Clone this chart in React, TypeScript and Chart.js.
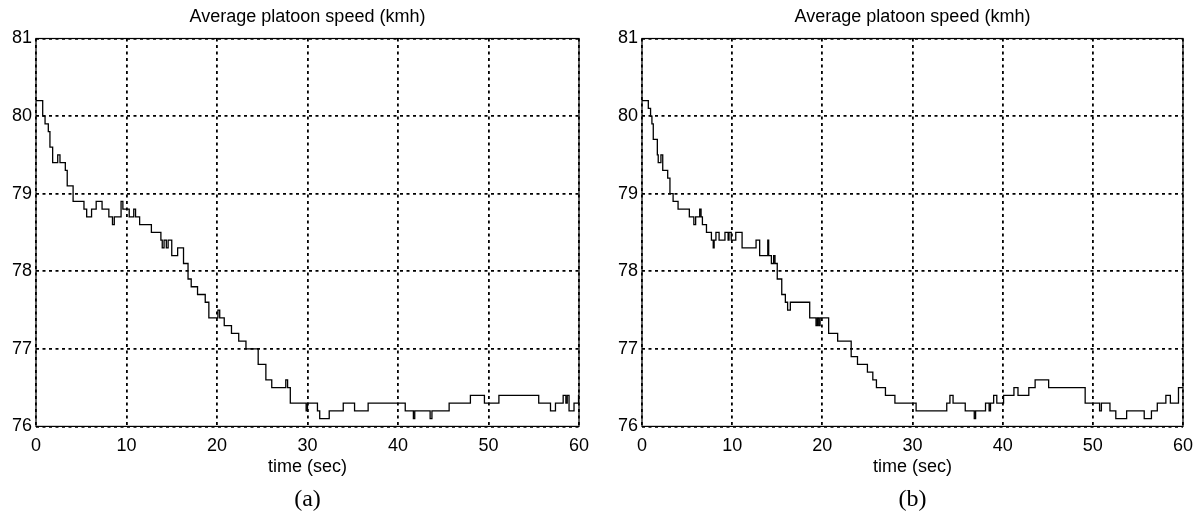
import React, { useEffect, useRef } from "react";
import { Chart, registerables } from "chart.js";

Chart.register(...registerables);

const chartTitle = "Average platoon speed (kmh)";
const xAxisTitle = "time (sec)";
const panelLabels = ["(a)", "(b)"];
const xTicks = [0, 10, 20, 30, 40, 50, 60];
const yTicks = [76, 77, 78, 79, 80, 81];

// Panel (a): times where speed changes (sec) and speed held from then (km/h)
const timesA = [0, 0.74, 1.0, 1.36, 1.54, 1.84, 2.4, 2.65, 3.24, 3.45, 4.1, 5.3, 5.6, 6.14, 6.65, 7.3, 8.05, 8.45, 8.65, 9.4, 9.6, 10.3, 10.8, 11.0, 11.45, 12.75, 13.8, 13.95, 14.15, 14.4, 14.6, 15.0, 15.65, 16.3, 16.8, 17.15, 17.85, 18.7, 19.1, 20.1, 20.3, 20.8, 21.6, 22.4, 23.2, 24.55, 25.4, 26.05, 27.6, 27.8, 28.1, 29.85, 30.0, 31.1, 31.35, 32.4, 33.95, 35.2, 36.7, 40.8, 41.7, 41.85, 43.55, 43.75, 45.65, 48.0, 49.55, 51.15, 55.55, 56.85, 57.4, 58.25, 58.55, 58.7, 58.9, 59.45, 59.95, 60];
const speedA = [80.2, 80.0, 79.9, 79.8, 79.6, 79.4, 79.5, 79.4, 79.3, 79.1, 78.9, 78.8, 78.7, 78.8, 78.9, 78.8, 78.7, 78.6, 78.7, 78.9, 78.8, 78.7, 78.8, 78.7, 78.6, 78.5, 78.4, 78.3, 78.4, 78.3, 78.4, 78.2, 78.3, 78.1, 77.9, 77.8, 77.7, 77.6, 77.4, 77.5, 77.4, 77.3, 77.2, 77.1, 77.0, 76.8, 76.6, 76.5, 76.6, 76.5, 76.3, 76.2, 76.3, 76.2, 76.1, 76.2, 76.3, 76.2, 76.3, 76.2, 76.1, 76.2, 76.1, 76.2, 76.3, 76.4, 76.3, 76.4, 76.3, 76.2, 76.3, 76.4, 76.3, 76.4, 76.2, 76.3, 76.4, 76.4];

// Panel (b)
const timesB = [0, 0.7, 0.95, 1.1, 1.25, 1.7, 1.8, 2.1, 2.3, 2.85, 3.1, 3.45, 4.0, 5.25, 5.75, 5.95, 6.4, 6.55, 6.7, 7.15, 7.7, 7.9, 8.0, 8.2, 8.55, 9.2, 9.55, 9.65, 9.9, 10.4, 11.1, 12.65, 13.05, 13.95, 14.05, 14.35, 14.6, 14.75, 15.0, 15.5, 15.9, 16.15, 16.45, 18.6, 19.3, 19.45, 19.6, 19.75, 20.7, 21.7, 23.2, 23.9, 25.0, 25.6, 26.0, 27.0, 28.05, 30.4, 33.8, 34.15, 34.5, 35.85, 36.85, 37.0, 38.1, 38.5, 38.65, 39.0, 39.35, 40.1, 41.25, 41.7, 42.9, 43.6, 45.1, 49.15, 50.75, 50.95, 51.9, 52.55, 53.75, 55.7, 56.5, 57.15, 58.1, 58.6, 59.5, 60];
const speedB = [80.2, 80.1, 80.0, 79.9, 79.7, 79.5, 79.4, 79.5, 79.3, 79.2, 79.0, 78.9, 78.8, 78.7, 78.6, 78.7, 78.8, 78.7, 78.6, 78.5, 78.4, 78.3, 78.4, 78.5, 78.4, 78.5, 78.4, 78.5, 78.4, 78.5, 78.3, 78.4, 78.2, 78.4, 78.2, 78.1, 78.2, 78.1, 77.9, 77.7, 77.6, 77.5, 77.6, 77.4, 77.3, 77.4, 77.3, 77.4, 77.2, 77.1, 76.9, 76.8, 76.7, 76.6, 76.5, 76.4, 76.3, 76.2, 76.3, 76.4, 76.3, 76.2, 76.1, 76.2, 76.3, 76.2, 76.3, 76.4, 76.3, 76.4, 76.5, 76.4, 76.5, 76.6, 76.5, 76.3, 76.2, 76.3, 76.2, 76.1, 76.2, 76.1, 76.2, 76.3, 76.4, 76.3, 76.5, 76.5];

const SANS = "'Liberation Sans', Arial, Helvetica, sans-serif";
const SERIF = "'Liberation Serif', 'Times New Roman', serif";

// Draws the solid frame plus the panel title (above) and the panel caption (below),
// both centred on the plot area.
const decorPlugin = {
  id: "decor",
  afterDraw(chart: any, _args: any, opts: any) {
    const { ctx, chartArea } = chart;
    const cx = (chartArea.left + chartArea.right) / 2;
    ctx.save();
    ctx.setLineDash([]);
    ctx.strokeStyle = "#000";
    ctx.lineWidth = 1.2;
    ctx.strokeRect(chartArea.left, chartArea.top, chartArea.right - chartArea.left, chartArea.bottom - chartArea.top);
    ctx.fillStyle = "#000";
    ctx.textAlign = "center";
    ctx.textBaseline = "middle";
    ctx.font = `18px ${SANS}`;
    ctx.fillText(opts.title, cx, chartArea.top - 21.2);
    ctx.font = `24px ${SERIF}`;
    ctx.fillText(opts.caption, cx, chart.height - 20);
    ctx.restore();
  },
};

function Panel(props: { times: number[]; speeds: number[]; label: string; left: number; width: number; axisWidth: number; padRight: number }) {
  const ref = useRef<HTMLCanvasElement | null>(null);
  useEffect(() => {
    if (!ref.current) return;
    const pts = props.times.map((t, i) => ({ x: t, y: props.speeds[i] }));
    const chart = new Chart(ref.current, {
      type: "line",
      data: {
        datasets: [
          {
            data: pts,
            stepped: "before",
            borderColor: "#000",
            borderWidth: 1.3,
            pointRadius: 0,
            fill: false,
          },
        ],
      },
      options: {
        animation: false,
        responsive: false,
        layout: { padding: { left: 0, right: props.padRight, top: 38.5, bottom: 42.4 } },
        plugins: {
          legend: { display: false },
          tooltip: { enabled: false },
          decor: { title: chartTitle, caption: props.label },
        },
        scales: {
          x: {
            type: "linear",
            min: xTicks[0],
            max: xTicks[xTicks.length - 1],
            afterBuildTicks: (s: any) => {
              s.ticks = xTicks.map((v) => ({ value: v }));
            },
            ticks: { color: "#000", font: { family: SANS, size: 18 }, padding: 9, maxRotation: 0, autoSkip: false },
            grid: { color: "#000", lineWidth: 1.8, drawTicks: false },
            border: { display: false, dash: [3, 3.5] },
            title: {
              display: true,
              text: xAxisTitle,
              color: "#000",
              font: { family: SANS, size: 18 },
              padding: { top: -10, bottom: 0 },
            },
          },
          y: {
            type: "linear",
            min: yTicks[0],
            max: yTicks[yTicks.length - 1],
            afterBuildTicks: (s: any) => {
              s.ticks = yTicks.map((v) => ({ value: v }));
            },
            afterFit: (s: any) => {
              s.width = props.axisWidth;
            },
            ticks: { color: "#000", font: { family: SANS, size: 18 }, padding: 4 },
            grid: { color: "#000", lineWidth: 1.8, drawTicks: false },
            border: { display: false, dash: [3, 3.5] },
          },
        },
      },
      plugins: [decorPlugin],
    } as any);
    return () => chart.destroy();
  }, []);
  return (
    <canvas
      ref={ref}
      width={props.width}
      height={520}
      style={{ position: "absolute", left: props.left, top: 0, width: props.width, height: 520 }}
    />
  );
}

export default function App() {
  return (
    <div style={{ position: "absolute", left: 0, top: 0, width: 1202, height: 520, background: "#fff" }}>
      <Panel times={timesA} speeds={speedA} label={panelLabels[0]} left={0} width={600} axisWidth={36} padRight={21} />
      <Panel times={timesB} speeds={speedB} label={panelLabels[1]} left={600} width={602} axisWidth={42} padRight={18} />
    </div>
  );
}
